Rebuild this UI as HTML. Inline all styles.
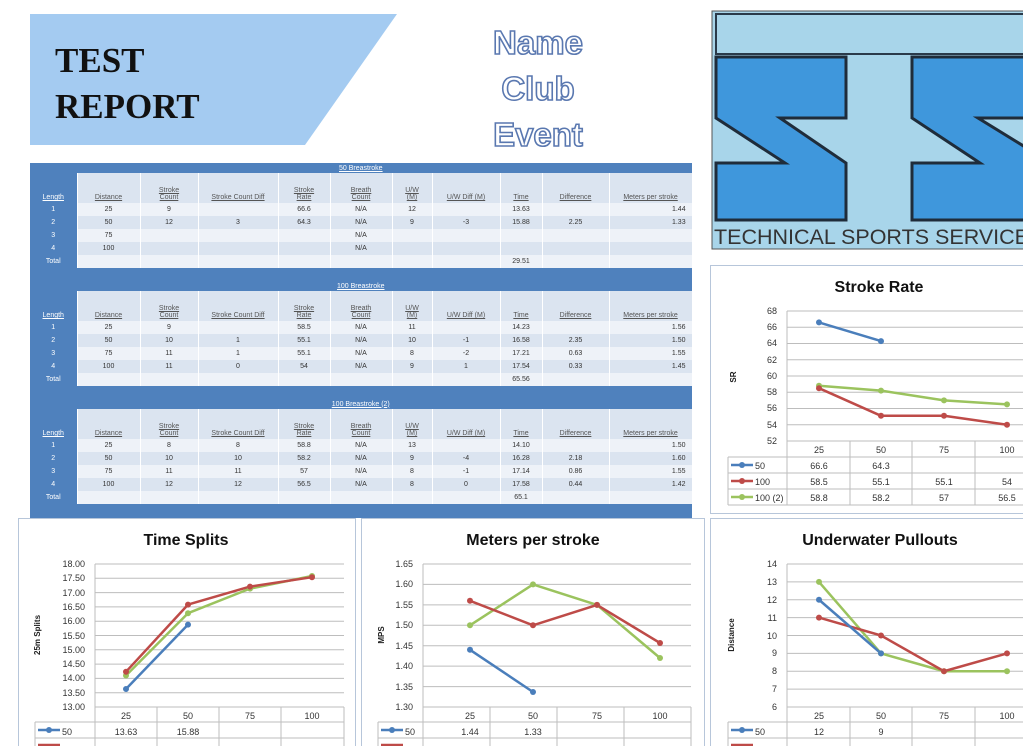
<!DOCTYPE html>
<html><head><meta charset="utf-8"><style>
body{margin:0;width:1023px;height:746px;overflow:hidden;background:#fff;font-family:"Liberation Sans",sans-serif;position:relative}
.blk{position:absolute;left:30px;width:662px}
table{border-collapse:collapse;table-layout:fixed;width:662px;font-size:7px;color:#333}
td{padding:0;text-align:center;border-right:1px solid #fff;overflow:hidden;white-space:nowrap;line-height:1}
td.l{background:#4f81bd;color:#fff}
tr.t td{background:#4f81bd;color:#fff;height:10px;text-decoration:underline}
tr.h td{background:#dbe4f0;height:28px;vertical-align:bottom;text-decoration:underline;color:#555;padding-bottom:2px}
tr.h td.l{background:#4f81bd;color:#fff}
tr.a td{background:#eef2f8;height:13px}
tr.b td{background:#dbe4f0;height:13px}
tr.a td.l,tr.b td.l{background:#4f81bd}
tr.e td{background:#4f81bd;height:14px}
td.r{text-align:right;padding-right:6px}
</style></head><body>
<svg width="1023" height="746" style="position:absolute;left:0;top:0">
<polygon points="30,14 397,14 305,145 30,145" fill="#a4cbf1"/>
<text x="55" y="72" font-family="Liberation Serif,serif" font-weight="bold" font-size="35" fill="#111">TEST</text>
<text x="55" y="118" font-family="Liberation Serif,serif" font-weight="bold" font-size="35" fill="#111">REPORT</text>
<g font-family="Liberation Sans,sans-serif" font-weight="bold" font-size="33" fill="#fff" stroke="#5a78b0" stroke-width="1.6" text-anchor="middle">
<text x="538" y="54">Name</text><text x="538" y="100">Club</text><text x="538" y="146">Event</text></g>
<!-- logo -->
<rect x="712" y="11" width="320" height="238" fill="#a8d5ea" stroke="#555" stroke-width="1"/>
<rect x="716" y="14" width="320" height="40" fill="#a8d5ea" stroke="#2a3a4a" stroke-width="2"/>
<polygon points="716,57 846,57 846,118 780,118 846,163 846,220 716,220 716,163 785,163 716,118" fill="#3f97dc" stroke="#1f2c3a" stroke-width="3"/>
<polygon points="912,57 1030,57 1030,118 978,118 1030,150 1030,220 912,220 912,163 980,163 912,118" fill="#3f97dc" stroke="#1f2c3a" stroke-width="3"/>
<text x="714" y="244" font-size="21.5" fill="#333">TECHNICAL SPORTS SERVICE</text>
<!-- chart boxes -->
<g fill="none" stroke="#b7c6da"><rect x="710.5" y="265.5" width="320" height="248"/><rect x="18.5" y="518.5" width="337" height="240"/><rect x="361.5" y="518.5" width="343" height="240"/><rect x="710.5" y="518.5" width="320" height="240"/></g>
<g font-family="Liberation Sans,sans-serif" font-weight="bold" font-size="16" fill="#111" text-anchor="middle">
<text x="879" y="292">Stroke Rate</text><text x="186" y="545">Time Splits</text><text x="533" y="545">Meters per stroke</text><text x="880" y="545">Underwater Pullouts</text></g>
<g stroke="#bdbdbd" stroke-width="1">
<path d="M787 311H1023M787 327.25H1023M787 343.5H1023M787 359.75H1023M787 376H1023M787 392.25H1023M787 408.5H1023M787 424.75H1023M787 441H1023M787 311V505M850 441V505M912 441V505M975 441V505M728 457H1023M728 473H1023M728 489H1023M728 505H1023M728 457V505"/>
<path d="M95 564H344M95 578.3H344M95 592.6H344M95 606.9H344M95 621.2H344M95 635.5H344M95 649.8H344M95 664.1H344M95 678.4H344M95 692.7H344M95 707H344M95 564V746M157 707V746M219 707V746M281 707V746M344 707V746M35 722H344M35 738H344M35 722V746"/>
<path d="M423 564H691M423 584.4H691M423 604.9H691M423 625.3H691M423 645.7H691M423 666.1H691M423 686.6H691M423 707H691M423 564V746M490 707V746M557 707V746M624 707V746M691 707V746M378 722H691M378 738H691M378 722V746"/>
<path d="M787 564H1023M787 581.9H1023M787 599.75H1023M787 617.6H1023M787 635.5H1023M787 653.4H1023M787 671.25H1023M787 689.1H1023M787 707H1023M787 564V746M850 707V746M912 707V746M975 707V746M728 722H1023M728 738H1023M728 722V746"/>
</g>
<g font-size="9" fill="#333" text-anchor="end">
<text x="777" y="314">68</text><text x="777" y="330">66</text><text x="777" y="346">64</text><text x="777" y="363">62</text><text x="777" y="379">60</text><text x="777" y="395">58</text><text x="777" y="411">56</text><text x="777" y="428">54</text><text x="777" y="444">52</text>
<text x="85" y="567">18.00</text><text x="85" y="581">17.50</text><text x="85" y="596">17.00</text><text x="85" y="610">16.50</text><text x="85" y="624">16.00</text><text x="85" y="639">15.50</text><text x="85" y="653">15.00</text><text x="85" y="667">14.50</text><text x="85" y="681">14.00</text><text x="85" y="696">13.50</text><text x="85" y="710">13.00</text>
<text x="413" y="567">1.65</text><text x="413" y="587">1.60</text><text x="413" y="608">1.55</text><text x="413" y="628">1.50</text><text x="413" y="649">1.45</text><text x="413" y="669">1.40</text><text x="413" y="690">1.35</text><text x="413" y="710">1.30</text>
<text x="777" y="567">14</text><text x="777" y="585">13</text><text x="777" y="603">12</text><text x="777" y="621">11</text><text x="777" y="639">10</text><text x="777" y="656">9</text><text x="777" y="674">8</text><text x="777" y="692">7</text><text x="777" y="710">6</text>
</g>
<g font-size="8" font-weight="bold" fill="#222" text-anchor="middle">
<text transform="translate(736,377) rotate(-90)">SR</text>
<text transform="translate(40,635) rotate(-90)">25m Splits</text>
<text transform="translate(384,635) rotate(-90)">MPS</text>
<text transform="translate(734,635) rotate(-90)">Distance</text></g>
<g font-size="9" fill="#333" text-anchor="middle">
<text x="819" y="453">25</text><text x="881" y="453">50</text><text x="944" y="453">75</text><text x="1007" y="453">100</text>
<text x="819" y="469">66.6</text><text x="881" y="469">64.3</text>
<text x="819" y="485">58.5</text><text x="881" y="485">55.1</text><text x="944" y="485">55.1</text><text x="1007" y="485">54</text>
<text x="819" y="501">58.8</text><text x="881" y="501">58.2</text><text x="944" y="501">57</text><text x="1007" y="501">56.5</text>
<text x="126" y="719">25</text><text x="188" y="719">50</text><text x="250" y="719">75</text><text x="312" y="719">100</text>
<text x="126" y="735">13.63</text><text x="188" y="735">15.88</text>
<text x="470" y="719">25</text><text x="533" y="719">50</text><text x="597" y="719">75</text><text x="660" y="719">100</text>
<text x="470" y="735">1.44</text><text x="533" y="735">1.33</text>
<text x="819" y="719">25</text><text x="881" y="719">50</text><text x="944" y="719">75</text><text x="1007" y="719">100</text>
<text x="819" y="735">12</text><text x="881" y="735">9</text>
</g>
<g font-size="9" fill="#333">
<text x="755" y="469">50</text><text x="755" y="485">100</text><text x="755" y="501">100 (2)</text>
<text x="62" y="735">50</text><text x="405" y="735">50</text><text x="755" y="735">50</text></g>
<g stroke-width="2.5">
<path d="M731 465H753" stroke="#4a7ebb"/><path d="M731 481H753" stroke="#be4b48"/><path d="M731 497H753" stroke="#9bc35e"/>
<path d="M38 730H60" stroke="#4a7ebb"/><path d="M38 745H60" stroke="#be4b48"/>
<path d="M381 730H403" stroke="#4a7ebb"/><path d="M381 745H403" stroke="#be4b48"/>
<path d="M731 730H753" stroke="#4a7ebb"/><path d="M731 745H753" stroke="#be4b48"/>
</g>
<g fill="none" stroke-width="2.5" stroke-linejoin="round">
<polyline stroke="#9bc35e" points="819,385.75 881,390.6 944,400.4 1007,404.4"/>
<polyline stroke="#be4b48" points="819,388.2 881,415.8 944,415.8 1007,424.75"/>
<polyline stroke="#4a7ebb" points="819,322.4 881,341.1"/>
<polyline stroke="#9bc35e" points="126,675.5 188,613.2 250,588.6 312,576"/>
<polyline stroke="#be4b48" points="126,671.8 188,604.6 250,586.6 312,577.2"/>
<polyline stroke="#4a7ebb" points="126,689 188,624.6"/>
<polyline stroke="#9bc35e" points="470,625.3 533,584.4 597,604.9 660,658"/>
<polyline stroke="#be4b48" points="470,600.8 533,625.3 597,604.9 660,643"/>
<polyline stroke="#4a7ebb" points="470,649.8 533,692"/>
<polyline stroke="#9bc35e" points="819,581.9 881,653.4 944,671.25 1007,671.25"/>
<polyline stroke="#be4b48" points="819,617.6 881,635.5 944,671.25 1007,653.4"/>
<polyline stroke="#4a7ebb" points="819,599.75 881,653.4"/>
</g>
<g>
<g fill="#9bc35e"><circle cx="819" cy="385.75" r="3"/><circle cx="881" cy="390.6" r="3"/><circle cx="944" cy="400.4" r="3"/><circle cx="1007" cy="404.4" r="3"/><circle cx="126" cy="675.5" r="3"/><circle cx="188" cy="613.2" r="3"/><circle cx="250" cy="588.6" r="3"/><circle cx="312" cy="576" r="3"/><circle cx="470" cy="625.3" r="3"/><circle cx="533" cy="584.4" r="3"/><circle cx="597" cy="604.9" r="3"/><circle cx="660" cy="658" r="3"/><circle cx="819" cy="581.9" r="3"/><circle cx="881" cy="653.4" r="3"/><circle cx="944" cy="671.25" r="3"/><circle cx="1007" cy="671.25" r="3"/><circle cx="742" cy="497" r="3"/></g>
<g fill="#be4b48"><circle cx="819" cy="388.2" r="3"/><circle cx="881" cy="415.8" r="3"/><circle cx="944" cy="415.8" r="3"/><circle cx="1007" cy="424.75" r="3"/><circle cx="126" cy="671.8" r="3"/><circle cx="188" cy="604.6" r="3"/><circle cx="250" cy="586.6" r="3"/><circle cx="312" cy="577.2" r="3"/><circle cx="470" cy="600.8" r="3"/><circle cx="533" cy="625.3" r="3"/><circle cx="597" cy="604.9" r="3"/><circle cx="660" cy="643" r="3"/><circle cx="819" cy="617.6" r="3"/><circle cx="881" cy="635.5" r="3"/><circle cx="944" cy="671.25" r="3"/><circle cx="1007" cy="653.4" r="3"/><circle cx="742" cy="481" r="3"/></g>
<g fill="#4a7ebb"><circle cx="819" cy="322.4" r="3"/><circle cx="881" cy="341.1" r="3"/><circle cx="126" cy="689" r="3"/><circle cx="188" cy="624.6" r="3"/><circle cx="470" cy="649.8" r="3"/><circle cx="533" cy="692" r="3"/><circle cx="819" cy="599.75" r="3"/><circle cx="881" cy="653.4" r="3"/><circle cx="742" cy="465" r="3"/><circle cx="49" cy="730" r="3"/><circle cx="392" cy="730" r="3"/><circle cx="742" cy="730" r="3"/></g>
</g>
</svg>

<div class="blk" style="top:163px"><table>
<colgroup><col style="width:47px"><col style="width:63px"><col style="width:58px"><col style="width:80px"><col style="width:52px"><col style="width:62px"><col style="width:40px"><col style="width:68px"><col style="width:42px"><col style="width:67px"><col style="width:83px"></colgroup>
<tr class="t"><td colspan="11">50 Breastroke</td></tr>
<tr class="h"><td class="l">Length</td><td>Distance</td><td>Stroke<br>Count</td><td>Stroke Count Diff</td><td>Stroke<br>Rate</td><td>Breath<br>Count</td><td>U/W<br>(M)</td><td>U/W Diff (M)</td><td>Time</td><td>Difference</td><td>Meters per stroke</td></tr>
<tr class="a"><td class="l">1</td><td>25</td><td>9</td><td></td><td>66.6</td><td>N/A</td><td>12</td><td></td><td>13.63</td><td></td><td class="r">1.44</td></tr>
<tr class="b"><td class="l">2</td><td>50</td><td>12</td><td>3</td><td>64.3</td><td>N/A</td><td>9</td><td>-3</td><td>15.88</td><td>2.25</td><td class="r">1.33</td></tr>
<tr class="a"><td class="l">3</td><td>75</td><td></td><td></td><td></td><td>N/A</td><td></td><td></td><td></td><td></td><td></td></tr>
<tr class="b"><td class="l">4</td><td>100</td><td></td><td></td><td></td><td>N/A</td><td></td><td></td><td></td><td></td><td></td></tr>
<tr class="a"><td class="l">Total</td><td></td><td></td><td></td><td></td><td></td><td></td><td></td><td>29.51</td><td></td><td></td></tr>
<tr class="e"><td colspan="11"></td></tr></table></div>

<div class="blk" style="top:281px"><table>
<colgroup><col style="width:47px"><col style="width:63px"><col style="width:58px"><col style="width:80px"><col style="width:52px"><col style="width:62px"><col style="width:40px"><col style="width:68px"><col style="width:42px"><col style="width:67px"><col style="width:83px"></colgroup>
<tr class="t"><td colspan="11">100 Breastroke</td></tr>
<tr class="h"><td class="l">Length</td><td>Distance</td><td>Stroke<br>Count</td><td>Stroke Count Diff</td><td>Stroke<br>Rate</td><td>Breath<br>Count</td><td>U/W<br>(M)</td><td>U/W Diff (M)</td><td>Time</td><td>Difference</td><td>Meters per stroke</td></tr>
<tr class="a"><td class="l">1</td><td>25</td><td>9</td><td></td><td>58.5</td><td>N/A</td><td>11</td><td></td><td>14.23</td><td></td><td class="r">1.56</td></tr>
<tr class="b"><td class="l">2</td><td>50</td><td>10</td><td>1</td><td>55.1</td><td>N/A</td><td>10</td><td>-1</td><td>16.58</td><td>2.35</td><td class="r">1.50</td></tr>
<tr class="a"><td class="l">3</td><td>75</td><td>11</td><td>1</td><td>55.1</td><td>N/A</td><td>8</td><td>-2</td><td>17.21</td><td>0.63</td><td class="r">1.55</td></tr>
<tr class="b"><td class="l">4</td><td>100</td><td>11</td><td>0</td><td>54</td><td>N/A</td><td>9</td><td>1</td><td>17.54</td><td>0.33</td><td class="r">1.45</td></tr>
<tr class="a"><td class="l">Total</td><td></td><td></td><td></td><td></td><td></td><td></td><td></td><td>65.56</td><td></td><td></td></tr>
<tr class="e"><td colspan="11"></td></tr></table></div>

<div class="blk" style="top:399px"><table>
<colgroup><col style="width:47px"><col style="width:63px"><col style="width:58px"><col style="width:80px"><col style="width:52px"><col style="width:62px"><col style="width:40px"><col style="width:68px"><col style="width:42px"><col style="width:67px"><col style="width:83px"></colgroup>
<tr class="t"><td colspan="11">100 Breastroke (2)</td></tr>
<tr class="h"><td class="l">Length</td><td>Distance</td><td>Stroke<br>Count</td><td>Stroke Count Diff</td><td>Stroke<br>Rate</td><td>Breath<br>Count</td><td>U/W<br>(M)</td><td>U/W Diff (M)</td><td>Time</td><td>Difference</td><td>Meters per stroke</td></tr>
<tr class="a"><td class="l">1</td><td>25</td><td>8</td><td>8</td><td>58.8</td><td>N/A</td><td>13</td><td></td><td>14.10</td><td></td><td class="r">1.50</td></tr>
<tr class="b"><td class="l">2</td><td>50</td><td>10</td><td>10</td><td>58.2</td><td>N/A</td><td>9</td><td>-4</td><td>16.28</td><td>2.18</td><td class="r">1.60</td></tr>
<tr class="a"><td class="l">3</td><td>75</td><td>11</td><td>11</td><td>57</td><td>N/A</td><td>8</td><td>-1</td><td>17.14</td><td>0.86</td><td class="r">1.55</td></tr>
<tr class="b"><td class="l">4</td><td>100</td><td>12</td><td>12</td><td>56.5</td><td>N/A</td><td>8</td><td>0</td><td>17.58</td><td>0.44</td><td class="r">1.42</td></tr>
<tr class="a"><td class="l">Total</td><td></td><td></td><td></td><td></td><td></td><td></td><td></td><td>65.1</td><td></td><td></td></tr>
<tr class="e"><td colspan="11"></td></tr></table></div>
</body></html>
